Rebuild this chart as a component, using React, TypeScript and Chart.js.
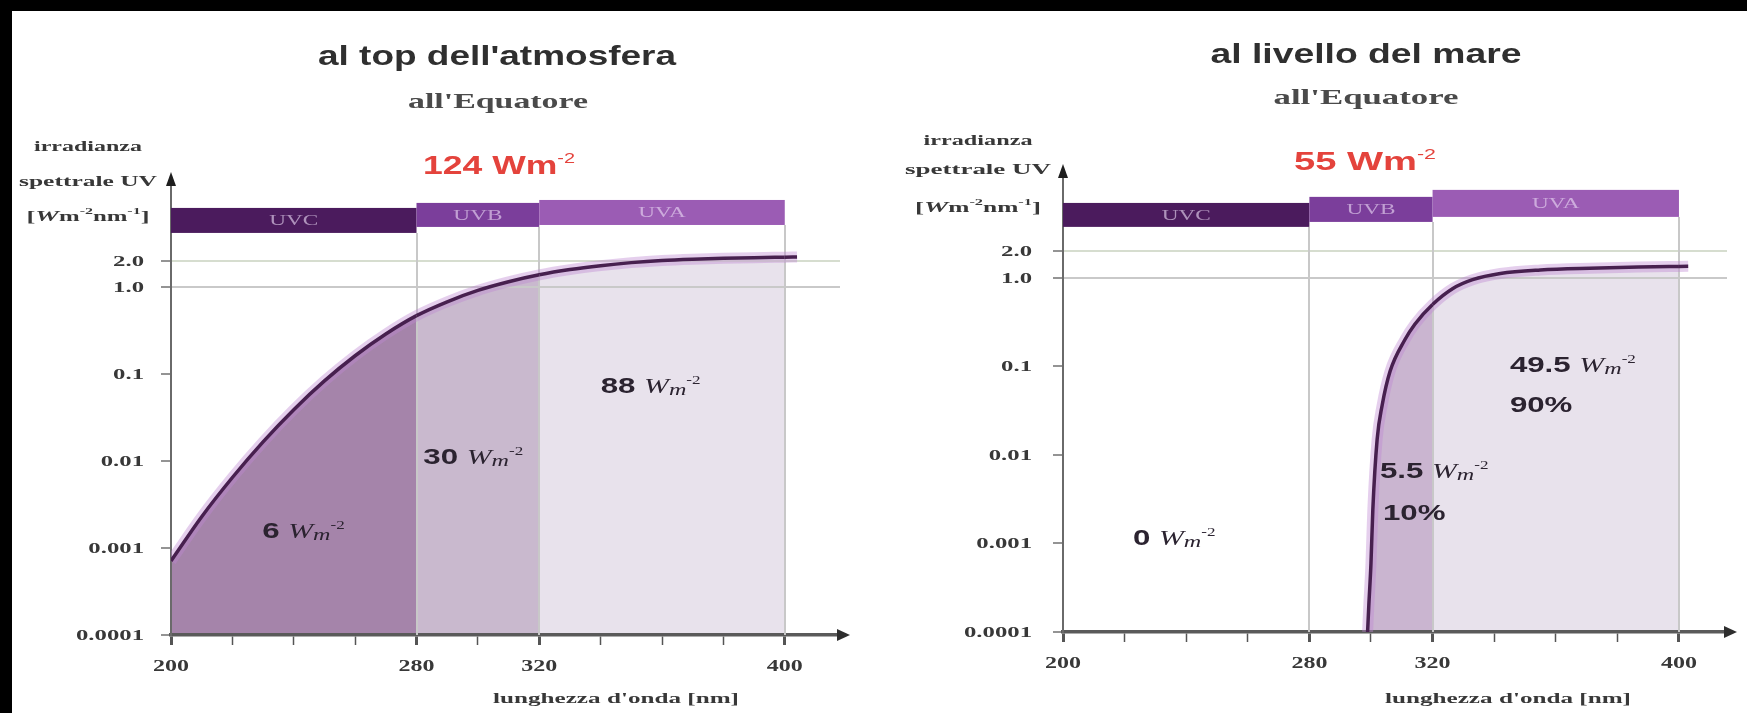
import React, { useEffect, useRef } from "react";
import { Chart, registerables } from "chart.js";

Chart.register(...registerables);

// ---------------- data ----------------
const bandNames = ["UVC", "UVB", "UVA"];
const bandStart = [200, 280, 320];
const bandEnd = [280, 320, 400];
const bandColors = ["#4b1b5d", "#7b3e9b", "#9b5cb4"];

const xTickValues = [200, 220, 240, 260, 280, 300, 320, 340, 360, 380, 400];
const xTickLabels = ["200", "", "", "", "280", "", "320", "", "", "", "400"];
const yTickValues = [0.0001, 0.001, 0.01, 0.1, 1, 2];
const yTickLabels = ["0.0001", "0.001", "0.01", "0.1", "1.0", "2.0"];

const yAxisLabel = ["irradianza", "spettrale UV"];
const xAxisLabel = "lunghezza d'onda [nm]";
const subtitleText = "all'Equatore";

// top of the atmosphere
const topTitle = "al top dell'atmosfera";
const topTotal = "124";
const topWavelength = [200, 210, 220, 230, 240, 250, 260, 270, 280, 290, 300, 310, 320, 330, 340, 350, 360, 370, 380, 390, 400, 404];
const topIrradiance = [
  0.00071, 0.00229, 0.00646, 0.0166, 0.0389, 0.0832, 0.162, 0.288, 0.468, 0.676, 0.912, 1.148, 1.38, 1.585, 1.758,
  1.905, 2.018, 2.089, 2.138, 2.173, 2.198, 2.208,
];
const topBandLow = [4.18, 4.9, 5.16];
const topBandHigh = [8.1, 9.25, 10.0];
const topFlux = ["6", "30", "88"];
const topShare = ["", "", ""];

// sea level
const seaTitle = "al livello del mare";
const seaTotal = "55";
const seaWavelength = [298.9, 299.3, 300, 300.6, 302, 303.6, 306.2, 311, 314.3, 320, 326.6, 333, 342, 355, 371, 392, 400, 403];
const seaIrradiance = [
  0.0001, 0.0002, 0.0006, 0.0024, 0.015, 0.036, 0.088, 0.2, 0.302, 0.501, 0.759, 0.955, 1.122, 1.23, 1.288, 1.334, 1.349,
  1.355,
];
const seaBandLow = [3.77, 4.29, 4.89];
const seaBandHigh = [7.03, 8.23, 9.87];
const seaFlux = ["0", "5.5", "49.5"];
const seaShare = ["", "10%", "90%"];

// ---------------- styling / layout ----------------
const SANS = '"Liberation Sans", Arial, sans-serif';
const SERIF = '"Liberation Serif", "Times New Roman", serif';
const CANVAS_H = 702;

type Part = { t: string; font: string; dy?: number };

function drawRich(
  ctx: CanvasRenderingContext2D,
  parts: Part[],
  x: number,
  baseline: number,
  opts: { align?: "left" | "center" | "right"; color: string; sx?: number; width?: number }
) {
  ctx.save();
  const widths = parts.map((p) => {
    ctx.font = p.font;
    return ctx.measureText(p.t).width;
  });
  const nat = widths.reduce((a, b) => a + b, 0);
  const sx = opts.width ? opts.width / nat : opts.sx ?? 1;
  const total = nat * sx;
  const align = opts.align ?? "left";
  const x0 = align === "center" ? x - total / 2 : align === "right" ? x - total : x;
  ctx.translate(x0, baseline);
  ctx.scale(sx, 1);
  ctx.fillStyle = opts.color;
  ctx.textAlign = "left";
  ctx.textBaseline = "alphabetic";
  let cx = 0;
  parts.forEach((p, i) => {
    ctx.font = p.font;
    ctx.fillText(p.t, cx, p.dy ?? 0);
    cx += widths[i];
  });
  ctx.restore();
}

function unitParts(size: number): Part[] {
  return [
    { t: "W", font: `italic ${size}px ${SERIF}` },
    { t: "m", font: `italic ${Math.round(size * 0.8)}px ${SERIF}`, dy: 2 },
    { t: "-2", font: `${Math.round(size * 0.58)}px ${SERIF}`, dy: -Math.round(size * 0.45) },
  ];
}

type Spec = {
  left: number;
  width: number;
  wavelength: number[];
  irradiance: number[];
  fills: string[];
  bandLow: number[];
  bandHigh: number[];
  xMax: number;
  yMax: number;
  pad: { left: number; right: number; top: number; bottom: number };
  yLabelGap: number;
  title: string;
  total: string;
  flux: string[];
  share: string[];
  fluxAt: number[][];
  shareAt: number[][];
  titlePos: number[];
  titleWidth: number;
  subPos: number[];
  subWidth: number;
  totalPos: number[];
  totalWidth: number;
  yLabX: number;
  yLabBase: number[];
  yLabWidths: number[];
  xTitlePos: number[];
  xTitleWidth: number;
};

const topSpec: Spec = {
  left: 0,
  width: 868,
  wavelength: topWavelength,
  irradiance: topIrradiance,
  fills: ["#a584aa", "#c9b9ce", "#e8e2ec"],
  bandLow: topBandLow,
  bandHigh: topBandHigh,
  xMax: 418,
  yMax: 14.86,
  pad: { left: 99, right: 40, top: 174, bottom: 28 },
  yLabelGap: 27,
  title: topTitle,
  total: topTotal,
  flux: topFlux,
  share: topShare,
  fluxAt: [[229.7, 0.00161], [282.2, 0.0114], [340, 0.0748]],
  shareAt: [[0, 0], [0, 0], [0, 0]],
  titlePos: [485, 54],
  titleWidth: 358,
  subPos: [486, 97],
  subWidth: 180,
  totalPos: [487, 163],
  totalWidth: 152,
  yLabX: 76,
  yLabBase: [140, 175, 210],
  yLabWidths: [108, 138, 123],
  xTitlePos: [604, 692],
  xTitleWidth: 246,
};

const seaSpec: Spec = {
  left: 868,
  width: 867,
  wavelength: seaWavelength,
  irradiance: seaIrradiance,
  fills: ["rgba(0,0,0,0)", "#cab5d0", "#e8e2ec"],
  bandLow: seaBandLow,
  bandHigh: seaBandHigh,
  xMax: 415.6,
  yMax: 13.8,
  pad: { left: 123, right: 20, top: 166, bottom: 31 },
  yLabelGap: 31,
  title: seaTitle,
  total: seaTotal,
  flux: seaFlux,
  share: seaShare,
  fluxAt: [[222.7, 0.00118], [302.9, 0.00678], [345.1, 0.1067]],
  shareAt: [[0, 0], [303.9, 0.00227], [345.1, 0.0377]],
  titlePos: [486, 52],
  titleWidth: 311,
  subPos: [486, 93],
  subWidth: 185,
  totalPos: [485, 159],
  totalWidth: 142,
  yLabX: 98,
  yLabBase: [134, 163, 201],
  yLabWidths: [109, 146, 126],
  xTitlePos: [628, 692],
  xTitleWidth: 246,
};

function makeConfig(spec: Spec): any {
  const points = spec.wavelength.map((x, i) => ({ x, y: spec.irradiance[i] }));
  const fillFor = (x: number) => {
    for (let i = 0; i < bandStart.length; i++) {
      if (x >= bandStart[i] - 1e-9 && x < bandEnd[i] - 1e-9) return spec.fills[i];
    }
    return "rgba(0,0,0,0)";
  };

  const decor = {
    id: "decor",
    beforeDatasetsDraw(chart: any) {
      const ctx = chart.ctx as CanvasRenderingContext2D;
      const xs = chart.scales.x;
      const ys = chart.scales.y;
      const area = chart.chartArea;
      ctx.save();
      // vertical separators
      ctx.strokeStyle = "#c8c8c8";
      ctx.lineWidth = 2;
      bandEnd.forEach((v, i) => {
        const x = Math.round(xs.getPixelForValue(v));
        ctx.beginPath();
        ctx.moveTo(x, ys.getPixelForValue(spec.bandLow[i]));
        ctx.lineTo(x, area.bottom);
        ctx.stroke();
      });
      // bands
      bandNames.forEach((name, i) => {
        const x1 = xs.getPixelForValue(bandStart[i]);
        const x2 = xs.getPixelForValue(bandEnd[i]);
        const y1 = ys.getPixelForValue(spec.bandHigh[i]);
        const y2 = ys.getPixelForValue(spec.bandLow[i]);
        ctx.fillStyle = bandColors[i];
        ctx.fillRect(x1, y1, x2 - x1, y2 - y1);
        drawRich(ctx, [{ t: name, font: `15px ${SERIF}` }], (x1 + x2) / 2, (y1 + y2) / 2 + 5, {
          align: "center",
          color: "rgba(235,220,245,0.62)",
          sx: 1.55,
        });
      });
      ctx.restore();
    },
    afterDraw(chart: any) {
      const ctx = chart.ctx as CanvasRenderingContext2D;
      const xs = chart.scales.x;
      const ys = chart.scales.y;
      const area = chart.chartArea;
      ctx.save();
      // arrows
      ctx.fillStyle = "#1e1e1e";
      ctx.beginPath();
      ctx.moveTo(area.left, area.top - 13);
      ctx.lineTo(area.left - 5, area.top + 1);
      ctx.lineTo(area.left + 5, area.top + 1);
      ctx.closePath();
      ctx.fill();
      ctx.fillStyle = "#2e2e2e";
      ctx.beginPath();
      ctx.moveTo(area.right + 10, area.bottom);
      ctx.lineTo(area.right - 3, area.bottom - 6);
      ctx.lineTo(area.right - 3, area.bottom + 6);
      ctx.closePath();
      ctx.fill();
      ctx.restore();

      const dark = "#383838";
      // tick labels
      yTickValues.forEach((v, i) => {
        drawRich(ctx, [{ t: yTickLabels[i], font: `bold 15px ${SERIF}` }], area.left - spec.yLabelGap, ys.getPixelForValue(v) + 5, {
          align: "right",
          color: dark,
          sx: 1.65,
        });
      });
      xTickValues.forEach((v, i) => {
        if (!xTickLabels[i]) return;
        drawRich(ctx, [{ t: xTickLabels[i], font: `bold 16px ${SERIF}` }], xs.getPixelForValue(v), area.bottom + 36, {
          align: "center",
          color: dark,
          sx: 1.5,
        });
      });

      // titles
      drawRich(ctx, [{ t: spec.title, font: `bold 28px ${SANS}` }], spec.titlePos[0], spec.titlePos[1], {
        align: "center",
        color: "#2f2f2f",
        width: spec.titleWidth,
      });
      drawRich(ctx, [{ t: subtitleText, font: `bold 22px ${SERIF}` }], spec.subPos[0], spec.subPos[1], {
        align: "center",
        color: "#4a4a4a",
        width: spec.subWidth,
      });
      drawRich(
        ctx,
        [
          { t: spec.total + " Wm", font: `bold 25px ${SANS}` },
          { t: "-2", font: `14px ${SANS}`, dy: -11 },
        ],
        spec.totalPos[0],
        spec.totalPos[1],
        { align: "center", color: "#e4433c", width: spec.totalWidth }
      );

      // y axis label
      yAxisLabel.forEach((txt, i) => {
        drawRich(ctx, [{ t: txt, font: `bold 14px ${SERIF}` }], spec.yLabX, spec.yLabBase[i], {
          align: "center",
          color: dark,
          width: spec.yLabWidths[i],
        });
      });
      drawRich(
        ctx,
        [
          { t: "[", font: `bold 15px ${SERIF}` },
          { t: "W", font: `bold italic 15px ${SERIF}` },
          { t: "m", font: `bold 14px ${SERIF}` },
          { t: "-2", font: `bold 9px ${SERIF}`, dy: -7 },
          { t: "nm", font: `bold 14px ${SERIF}` },
          { t: "-1", font: `bold 9px ${SERIF}`, dy: -7 },
          { t: "]", font: `bold 15px ${SERIF}` },
        ],
        spec.yLabX,
        spec.yLabBase[2],
        { align: "center", color: dark, width: spec.yLabWidths[2] }
      );

      // x axis label
      drawRich(ctx, [{ t: xAxisLabel, font: `bold 15px ${SERIF}` }], spec.xTitlePos[0], spec.xTitlePos[1], {
        align: "center",
        color: dark,
        width: spec.xTitleWidth,
      });

      // band flux annotations
      const annColor = "#2b2330";
      spec.flux.forEach((f, i) => {
        const x = xs.getPixelForValue(spec.fluxAt[i][0]);
        const y = ys.getPixelForValue(spec.fluxAt[i][1]);
        drawRich(ctx, [{ t: f + " ", font: `bold 22px ${SANS}` }, ...unitParts(21)], x, y + 8, {
          align: "left",
          color: annColor,
          sx: 1.42,
        });
      });
      spec.share.forEach((s, i) => {
        if (!s) return;
        const x = xs.getPixelForValue(spec.shareAt[i][0]);
        const y = ys.getPixelForValue(spec.shareAt[i][1]);
        drawRich(ctx, [{ t: s, font: `bold 22px ${SANS}` }], x, y + 8, { align: "left", color: annColor, sx: 1.42 });
      });
    },
  };

  return {
    type: "line",
    data: {
      datasets: [
        {
          data: points,
          borderColor: "#47204f",
          borderWidth: 3.5,
          pointRadius: 0,
          cubicInterpolationMode: "monotone",
          fill: "start",
          backgroundColor: "rgba(0,0,0,0)",
          segment: { backgroundColor: (c: any) => fillFor(c.p0.parsed.x) },
        },
        {
          data: points,
          borderColor: "rgba(190,135,210,0.40)",
          borderWidth: 11,
          pointRadius: 0,
          cubicInterpolationMode: "monotone",
          fill: false,
        },
      ],
    },
    options: {
      responsive: false,
      animation: false,
      events: [],
      layout: { padding: spec.pad },
      plugins: {
        legend: { display: false },
        tooltip: { enabled: false },
        filler: { drawTime: "beforeDraw" },
      },
      scales: {
        x: {
          type: "linear",
          min: 200,
          max: spec.xMax,
          afterFit: (s: any) => {
            s.height = 50;
          },
          afterBuildTicks: (s: any) => {
            s.ticks = xTickValues.map((v) => ({ value: v }));
          },
          ticks: { display: false },
          grid: {
            drawOnChartArea: false,
            drawTicks: true,
            tickLength: 10,
            tickColor: "#555555",
            tickWidth: (c: any) => (c.tick && xTickLabels[xTickValues.indexOf(c.tick.value)] ? 3 : 1.5),
          },
          border: { display: true, color: "#5a5a5a", width: 3.5 },
        },
        y: {
          type: "logarithmic",
          min: 0.0001,
          max: spec.yMax,
          afterFit: (s: any) => {
            s.width = 60;
          },
          afterBuildTicks: (s: any) => {
            s.ticks = yTickValues.map((v) => ({ value: v }));
          },
          ticks: { display: false },
          grid: {
            color: (c: any) =>
              c.tick && c.tick.value === 1 ? "#c9c9c9" : c.tick && c.tick.value === 2 ? "#d6ddcf" : "rgba(0,0,0,0)",
            lineWidth: 2,
            drawTicks: true,
            tickLength: 10,
            tickColor: "#707070",
            tickWidth: 1.5,
          },
          border: { display: true, color: "#6a6a6a", width: 2 },
        },
      },
    },
    plugins: [decor],
  };
}

function UVChart({ spec }: { spec: Spec }) {
  const ref = useRef<HTMLCanvasElement>(null);
  useEffect(() => {
    const chart = new Chart(ref.current as HTMLCanvasElement, makeConfig(spec));
    return () => chart.destroy();
  }, [spec]);
  return (
    <canvas
      ref={ref}
      width={spec.width}
      height={CANVAS_H}
      style={{ position: "absolute", left: spec.left, top: 0, width: spec.width, height: CANVAS_H, display: "block" }}
    />
  );
}

export default function App() {
  return (
    <div style={{ position: "absolute", left: 0, top: 0, width: 1747, height: 713, background: "#000", overflow: "hidden" }}>
      <div style={{ position: "absolute", left: 12, top: 11, width: 1735, height: CANVAS_H, background: "#fff" }}>
        <UVChart spec={topSpec} />
        <UVChart spec={seaSpec} />
      </div>
    </div>
  );
}
